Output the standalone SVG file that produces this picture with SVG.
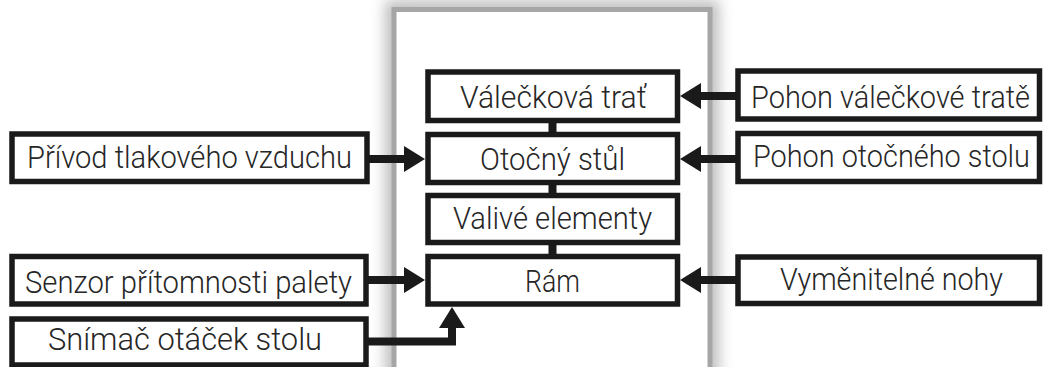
<svg xmlns="http://www.w3.org/2000/svg" width="1043" height="367" viewBox="0 0 1043 367">
<style>
.box{fill:#fff;stroke:#1a1a1a;stroke-width:5.5}
.lbl{font-family:Roboto,"Liberation Sans",Arial,sans-serif;font-weight:300;font-size:32px;fill:#262626}
.wire{stroke:#1a1a1a;stroke-width:8;fill:none}
</style>
<defs>
<filter id="blur" x="-20%" y="-20%" width="140%" height="140%"><feGaussianBlur stdDeviation="7"/></filter>
<marker id="ah" markerUnits="userSpaceOnUse" viewBox="0 0 21 26" refX="6" refY="13" markerWidth="21" markerHeight="26" orient="auto">
<path d="M0,0 L21,13 L0,26 Z" fill="#1a1a1a"/>
</marker>
</defs>
<rect width="1043" height="367" fill="#fff"/>
<g id="frame">
<rect x="394" y="9.5" width="316" height="370" fill="none" stroke="#bdbdbd" stroke-width="18" filter="url(#blur)"/>
<rect x="394" y="9.5" width="316" height="370" fill="#fff" stroke="#a6a6a6" stroke-width="5"/>
</g>
<g id="connectors">
<line class="wire" x1="552.5" y1="120" x2="552.5" y2="257" stroke-width="7"/>
<line class="wire" x1="738" y1="96" x2="695" y2="96" marker-end="url(#ah)"/>
<line class="wire" x1="738" y1="159" x2="695" y2="159" marker-end="url(#ah)"/>
<line class="wire" x1="738" y1="280" x2="695" y2="280" marker-end="url(#ah)"/>
<line class="wire" x1="367" y1="159" x2="410" y2="159" marker-end="url(#ah)"/>
<line class="wire" x1="366" y1="280" x2="410" y2="280" marker-end="url(#ah)"/>
<polyline class="wire" points="366,341.5 452,341.5 452,322" marker-end="url(#ah)"/>
</g>
<g id="valeckova-trat"><rect class="box" x="428" y="72" width="249.5" height="48.5"/><text class="lbl" x="460" y="108" textLength="187" lengthAdjust="spacingAndGlyphs">Válečková trať</text></g>
<g id="otocny-stul"><rect class="box" x="428" y="134.5" width="249.5" height="48"/><text class="lbl" x="480" y="170" textLength="145" lengthAdjust="spacingAndGlyphs">Otočný stůl</text></g>
<g id="valive-elementy"><rect class="box" x="428" y="195.5" width="249.5" height="47"/><text class="lbl" x="453" y="229" textLength="199" lengthAdjust="spacingAndGlyphs">Valivé elementy</text></g>
<g id="ram"><rect class="box" x="428" y="256.5" width="249.5" height="47.5"/><text class="lbl" x="525" y="292" textLength="55" lengthAdjust="spacingAndGlyphs">Rám</text></g>
<g id="privod"><rect class="box" x="12" y="134" width="355" height="47.5"/><text class="lbl" x="27" y="168" textLength="325" lengthAdjust="spacingAndGlyphs">Přívod tlakového vzduchu</text></g>
<g id="senzor"><rect class="box" x="12" y="256.5" width="354" height="47.5"/><text class="lbl" x="25" y="293" textLength="327" lengthAdjust="spacingAndGlyphs">Senzor přítomnosti palety</text></g>
<g id="snimac"><rect class="box" x="12" y="319" width="354" height="46"/><text class="lbl" x="48" y="350" textLength="274" lengthAdjust="spacingAndGlyphs">Snímač otáček stolu</text></g>
<g id="pohon-trat"><rect class="box" x="738" y="71" width="301.5" height="48"/><text class="lbl" transform="matrix(0.86 0 0 1 751 108)" x="0" y="0" textLength="324.4" lengthAdjust="spacingAndGlyphs">Pohon válečkové tratě</text></g>
<g id="pohon-stul"><rect class="box" x="738" y="133.5" width="301.5" height="48"/><text class="lbl" transform="matrix(0.86 0 0 1 753 167)" x="0" y="0" textLength="322" lengthAdjust="spacingAndGlyphs">Pohon otočného stolu</text></g>
<g id="nohy"><rect class="box" x="738" y="257" width="301.5" height="46.5"/><text class="lbl" transform="matrix(0.86 0 0 1 780 290)" x="0" y="0" textLength="259.3" lengthAdjust="spacingAndGlyphs">Vyměnitelné nohy</text></g>
</svg>
